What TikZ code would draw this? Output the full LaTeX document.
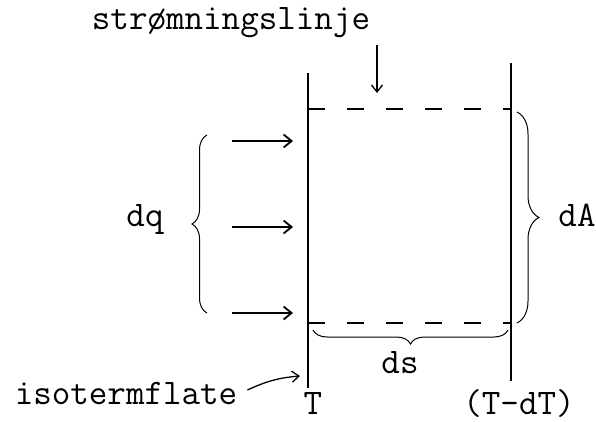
\documentclass[tikz,border=0pt]{standalone}
\usetikzlibrary{arrows.meta,decorations.pathreplacing,positioning}
\begin{document}
\begin{tikzpicture}[x=1pt,y=-1pt,
  tw/.style={font=\ttfamily\fontsize{36}{40}\selectfont,inner sep=0pt},
  wall/.style={line width=1.4pt},
  stream/.style={line width=1.6pt,dash pattern=on 17pt off 22pt},
  flux/.style={line width=2pt,-{Straight Barb[length=8pt,width=13pt,line width=1.8pt]}},
  pointer/.style={line width=1.3pt,-{Straight Barb[length=7pt,width=11pt]}},
  curly/.style={line width=1pt,decorate,decoration={brace,amplitude=#1}}]
  \useasboundingbox (0,0) rectangle (596,422);

  % Isotherms
  \coordinate (Ttop) at (308,73);
  \coordinate (Tbot) at (308,388);
  \coordinate (dTtop) at (511,63);
  \coordinate (dTbot) at (511,381);
  \draw[wall] (Ttop) -- (Tbot);
  \draw[wall] (dTtop) -- (dTbot);

  % Streamlines
  \coordinate (s1a) at (308,109);
  \coordinate (s1b) at (511,109);
  \coordinate (s2a) at (308,323);
  \coordinate (s2b) at (511,323);
  \draw[stream] (s1a) -- (s1b);
  \draw[stream] (s2a) -- (s2b);

  % Heat flow arrows
  \foreach \i/\y in {1/141,2/227,3/313} {
    \coordinate (q\i a) at (232,\y);
    \coordinate (q\i b) at (293,\y);
    \draw[flux] (q\i a) -- (q\i b);
  }

  % Braces
  \coordinate (dqlo) at (207,313);
  \coordinate (dqhi) at (207,135);
  \draw[curly=15pt] (dqlo) -- (dqhi);
  \node[tw,anchor=base] (dq) at (145,226) {dq};

  \coordinate (dAhi) at (517,112);
  \coordinate (dAlo) at (517,323);
  \draw[curly=22pt] (dAhi) -- (dAlo);
  \node[tw,anchor=base] (dA) at (577,226) {dA};

  \coordinate (dsr) at (508,330);
  \coordinate (dsl) at (313,330);
  \draw[curly=14pt] (dsr) -- (dsl);
  \node[tw,anchor=base] (ds) at (400,373) {ds};

  % Labels
  \node[tw,anchor=base] (strl) at (231,30) {strømningslinje};
  \coordinate (strtail) at (377,45);
  \coordinate (strtip) at (377,93);
  \draw[pointer] (strtail) -- (strtip);

  \node[tw,anchor=base] (iso) at (126,404) {isotermflate};
  \coordinate (isotip) at (300,376);
  \draw[pointer] (iso.east) ++(10,-3) coordinate (isotail) to[bend left=10] (isotip);

  \node[tw,anchor=base] (T) at (313,414) {T};
  \node[tw,anchor=base] (TdT) at (519,414) {(T-dT)};
\end{tikzpicture}
\end{document}
